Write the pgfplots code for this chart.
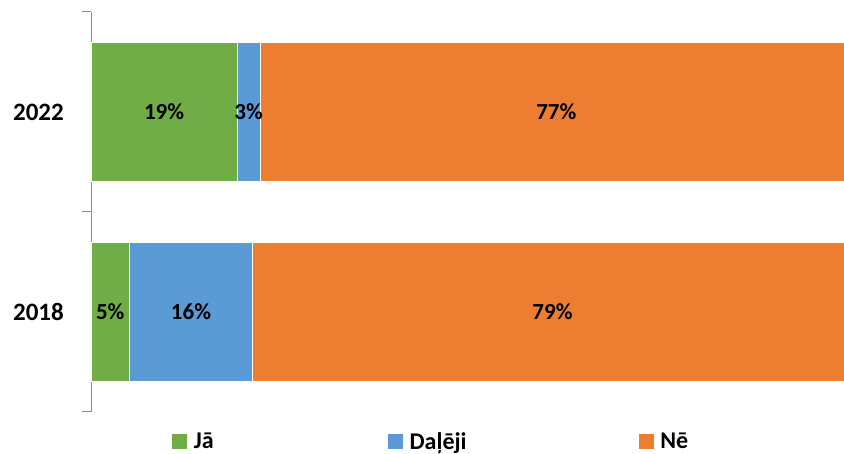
\documentclass[border=0pt]{standalone}
\usepackage{pgfplots}
\pgfplotsset{compat=1.18}
\usepackage{fontspec}
\setmainfont{Carlito}
\definecolor{cg}{HTML}{70AD47}
\definecolor{cb}{HTML}{5B9BD5}
\definecolor{co}{HTML}{ED7D31}
\definecolor{axgray}{HTML}{8C8C8C}
\pgfplotsset{
  common/.style={
    at={(91pt,42pt)}, anchor=south west,
    scale only axis, width=753pt, height=400pt,
    xmin=0, xmax=97.9, ymin=-0.5, ymax=1.5,
  }
}
\begin{document}
\begin{tikzpicture}
\useasboundingbox (0,0) rectangle (844pt,454pt);
\begin{axis}[
  common,
  xbar stacked, bar width=138.5pt,
  axis x line=none,
  axis y line=left,
  axis line style={-, axgray, line width=1pt},
  ytick={0,1}, yticklabels={2018,2022},
  major tick length=0pt,
  yticklabel style={font=\fontsize{25}{25}\selectfont\bfseries, anchor=east, inner sep=0pt, xshift=-27pt},
  extra y ticks={-0.5,0.5,1.5}, extra y tick labels={},
  extra y tick style={major tick length=9pt, tick align=outside, tick style={axgray, line width=1pt}},
  legend style={at={(axis description cs:0.1076,-0.074)}, anchor=west, draw=none, fill=none,
     inner sep=0pt, outer sep=0pt,
     /tikz/every even column/.append style={column sep=0pt},
     nodes={inner sep=0pt, font=\fontsize{24}{24}\selectfont\bfseries}},
  legend columns=3, legend cell align=left,
]
\addplot[fill=cg, draw=white, line width=0.8pt,
  legend image code/.code={\fill[cg] (0pt,-7pt) rectangle (14pt,7pt);}]
  table[x=v, y=c] {
c v
0 5
1 19
};
\addlegendentry{\makebox[201pt][l]{\hspace{7pt}Jā}}
\addplot[fill=cb, draw=white, line width=0.8pt,
  legend image code/.code={\fill[cb] (0pt,-7pt) rectangle (14pt,7pt);}]
  table[x=v, y=c] {
c v
0 16
1 3
};
\addlegendentry{\makebox[236pt][l]{\hspace{7pt}Daļēji}}
\addplot[fill=co, draw=white, line width=0.8pt,
  legend image code/.code={\fill[co] (0pt,-7pt) rectangle (14pt,7pt);}]
  table[x=v, y=c] {
c v
0 79
1 77
};
\addlegendentry{\hspace{7pt}Nē}
\end{axis}
\begin{axis}[
  common,
  hide axis,
  clip=false,
  point meta=explicit symbolic,
  nodes near coords={\pgfplotspointmeta\%},
  every node near coord/.append style={anchor=center, font=\fontsize{23}{23}\selectfont\bfseries, text=black},
]
\addplot[draw=none, mark=none] table[x=m, y=c, meta=v] {
c m v
1 9.5 19
1 20.5 3
1 60.5 77
0 2.5 5
0 13 16
0 60 79
};
\end{axis}
\end{tikzpicture}
\end{document}
